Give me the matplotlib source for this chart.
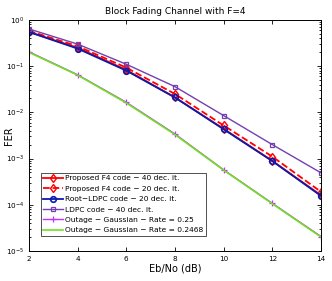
import matplotlib
matplotlib.use("Agg")
import matplotlib.pyplot as plt
from matplotlib.ticker import LogLocator, NullFormatter

ebno = [2, 4, 6, 8, 10, 12, 14]

prop40 = [0.55, 0.25, 0.083, 0.021, 0.0044, 0.00089, 0.00016]
prop20 = [0.58, 0.27, 0.093, 0.025, 0.0052, 0.0011, 0.00019]
root20 = [0.55, 0.24, 0.080, 0.021, 0.0043, 0.00088, 0.000155]
ldpc40 = [0.64, 0.30, 0.11, 0.036, 0.0085, 0.0020, 0.00049]
out25 = [0.205, 0.065, 0.0165, 0.0034, 0.00057, 0.000107, 0.0000205]
out2468 = [0.20, 0.064, 0.016, 0.0033, 0.00056, 0.000105, 0.000020]

labels = [
    "Proposed F4 code \u2212 40 dec. it.",
    "Proposed F4 code \u2212 20 dec. it.",
    "Root\u2212LDPC code \u2212 20 dec. it.",
    "LDPC code \u2212 40 dec. it.",
    "Outage \u2212 Gaussian \u2212 Rate = 0.25",
    "Outage \u2212 Gaussian \u2212 Rate = 0.2468",
]

fig = plt.figure(figsize=(3.32, 2.81), dpi=100)
ax = fig.add_axes([0.087, 0.107, 0.88, 0.822])

ax.semilogy(ebno, prop40, "-d", color="#ff0000", lw=1.3, ms=4.5,
            mfc="none", mew=1.0, label=labels[0])
ax.semilogy(ebno, prop20, "--d", color="#ff0000", lw=1.3, ms=4.5,
            mfc="none", mew=1.0, label=labels[1])
ax.semilogy(ebno, root20, "-o", color="#0a1ab0", lw=1.3, ms=4,
            mfc="none", mew=1.2, label=labels[2])
ax.semilogy(ebno, ldpc40, "-s", color="#7340b0", lw=1.0, ms=3.5,
            mfc="none", mew=0.9, label=labels[3])
ax.semilogy(ebno, out25, "-+", color="#c030ff", lw=1.0, ms=4,
            mew=0.9, label=labels[4])
ax.semilogy(ebno, out2468, "-", color="#70e020", lw=1.2,
            label=labels[5])

ax.set_xlim(2, 14)
ax.set_ylim(1e-5, 1)
ax.set_xticks(ebno)
ax.yaxis.set_major_locator(LogLocator(base=10, numticks=10))
ax.yaxis.set_minor_locator(LogLocator(base=10, subs=range(2, 10), numticks=10))
ax.yaxis.set_minor_formatter(NullFormatter())
ax.tick_params(which="both", direction="in", top=True, right=True,
               labelsize=5.2, width=0.6)
ax.tick_params(which="major", length=3)
ax.tick_params(which="minor", length=1.5)
for s in ax.spines.values():
    s.set_linewidth(0.7)

ax.set_title("Block Fading Channel with F=4", fontsize=6.5, pad=4)
ax.set_xlabel("Eb/No (dB)", fontsize=7, labelpad=1)
ax.set_ylabel("FER", fontsize=7)
ax.yaxis.set_label_coords(-0.05, 0.5)

leg = ax.legend(loc="lower left", bbox_to_anchor=(0.04, 0.065), fontsize=5.4,
                frameon=True, fancybox=False, edgecolor="black",
                borderpad=0.35, labelspacing=0.55, handlelength=2.6,
                handletextpad=0.3, borderaxespad=0)
leg.get_frame().set_linewidth(0.6)

fig.savefig("out.png", dpi=100)
